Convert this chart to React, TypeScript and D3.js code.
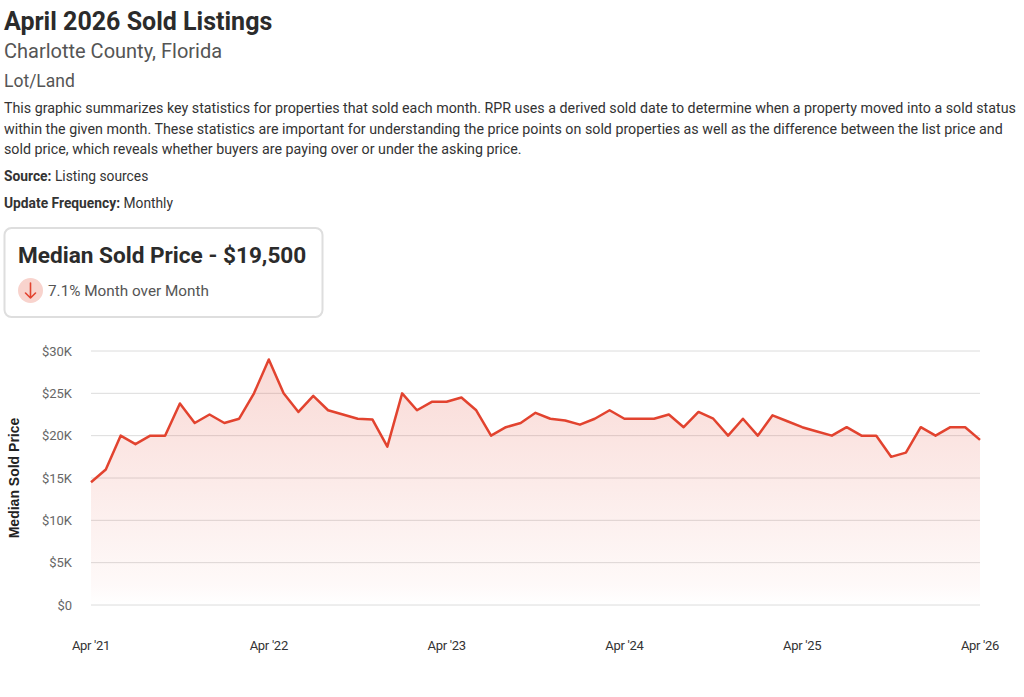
import React from "react";
import * as d3 from "d3";

const months: string[] = d3.range(61).map((i) => {
  const d = new Date(2021, 3 + i, 1);
  return d3.timeFormat("%Y-%m")(d);
});

const medianPrice: number[] = [
  14500, 16000, 20000, 19000, 20000, 20000, 23800, 21500, 22500, 21500,
  22000, 25000, 29000, 25000, 22800, 24700, 23000, 22500, 22000, 21900,
  18700, 25000, 23000, 24000, 24000, 24500, 23000, 20000, 21000, 21500,
  22700, 22000, 21800, 21300, 22000, 23000, 22000, 22000, 22000, 22500,
  21000, 22800, 22000, 20000, 22000, 20000, 22400, 21700, 21000, 20500,
  20000, 21000, 20000, 20000, 17500, 18000, 21000, 20000, 21000, 21000,
  19500,
];

const yTicks: number[] = [0, 5000, 10000, 15000, 20000, 25000, 30000];
const xTickIndex: number[] = [0, 12, 24, 36, 48, 60];
const xTickLabels: string[] = ["Apr '21", "Apr '22", "Apr '23", "Apr '24", "Apr '25", "Apr '26"];

const descLines: string[] = [
  "This graphic summarizes key statistics for properties that sold each month. RPR uses a derived sold date to determine when a property moved into a sold status",
  "within the given month. These statistics are important for understanding the price points on sold properties as well as the difference between the list price and",
  "sold price, which reveals whether buyers are paying over or under the asking price.",
];

const FONT = "Roboto, 'Noto Sans', sans-serif";
const RED = "#e2432f";

export default function App() {
  const W = 1024;
  const H = 697;
  const x = d3.scaleLinear().domain([0, months.length - 1]).range([91, 980]);
  const y = d3.scaleLinear().domain([0, 30000]).range([605, 351]);

  const line = d3
    .line<number>()
    .x((_, i) => x(i))
    .y((d) => y(d));
  const area = d3
    .area<number>()
    .x((_, i) => x(i))
    .y0(y(0))
    .y1((d) => y(d));

  const last = medianPrice[medianPrice.length - 1];
  const prev = medianPrice[medianPrice.length - 2];
  const mom = Math.abs(((last - prev) / prev) * 100).toFixed(1);

  return (
    <svg
      width={W}
      height={H}
      style={{ position: "absolute", left: 0, top: 0, background: "#fff" }}
      fontFamily={FONT}
    >
      <defs>
        <linearGradient id="fillGrad" x1="0" y1="0" x2="0" y2="1">
          <stop offset="0%" stopColor={RED} stopOpacity={0.2} />
          <stop offset="92%" stopColor={RED} stopOpacity={0.03} />
          <stop offset="100%" stopColor={RED} stopOpacity={0} />
        </linearGradient>
      </defs>

      {/* Header */}
      <text x={4} y={30} fontSize={25} fontWeight={700} fill="#2b2b2b">
        April 2026 Sold Listings
      </text>
      <text x={4} y={58} fontSize={20} fill="#555">
        Charlotte County, Florida
      </text>
      <text x={4} y={87} fontSize={17.5} fill="#555">
        Lot/Land
      </text>
      {descLines.map((l, i) => (
        <text key={i} x={4} y={113 + i * 20.5} fontSize={14.25} fill="#333">
          {l}
        </text>
      ))}
      <text x={4} y={181} fontSize={13.8} fill="#333">
        <tspan fontWeight={700}>Source:</tspan> Listing sources
      </text>
      <text x={4} y={208} fontSize={13.8} fill="#333">
        <tspan fontWeight={700}>Update Frequency:</tspan> Monthly
      </text>

      {/* Card */}
      <rect x={4.5} y={228} width={318} height={89} rx={7} fill="#fff" stroke="#dedede" strokeWidth={2} />
      <text x={18} y={263} fontSize={22.6} fontWeight={700} fill="#2b2b2b">
        Median Sold Price - ${d3.format(",")(last)}
      </text>
      <circle cx={30.5} cy={290.5} r={12.5} fill="#f8d3cd" />
      <path d="M30.5,283 L30.5,298 M25.5,293 L30.5,298 L35.5,293" fill="none" stroke={RED} strokeWidth={1.6} strokeLinecap="round" strokeLinejoin="round" />
      <text x={48} y={296} fontSize={15.3} fill="#555">
        {mom}% Month over Month
      </text>

      {/* Grid */}
      {yTicks.map((t) => (
        <g key={t}>
          <line x1={91} x2={980} y1={y(t)} y2={y(t)} stroke="#dcdcdc" strokeWidth={1} />
          <text x={72} y={y(t)} dy="0.35em" textAnchor="end" fontSize={13} fill="#666">
            {t === 0 ? "$0" : `$${t / 1000}K`}
          </text>
        </g>
      ))}

      {/* Area + line */}
      <path d={area(medianPrice) || ""} fill="url(#fillGrad)" />
      <path d={line(medianPrice) || ""} fill="none" stroke={RED} strokeWidth={2.5} strokeLinejoin="round" />

      {/* X ticks */}
      {xTickIndex.map((idx, i) => (
        <text key={idx} x={x(idx)} y={650} textAnchor="middle" fontSize={13} fill="#333" letterSpacing={-0.3}>
          {xTickLabels[i]}
        </text>
      ))}

      {/* Y axis title */}
      <text
        transform={`translate(19,${y(15000)}) rotate(-90)`}
        textAnchor="middle"
        fontSize={14}
        fontWeight={700}
        fontFamily="'Liberation Sans', Arial, sans-serif"
        fill="#222"
      >
        Median Sold Price
      </text>
    </svg>
  );
}
